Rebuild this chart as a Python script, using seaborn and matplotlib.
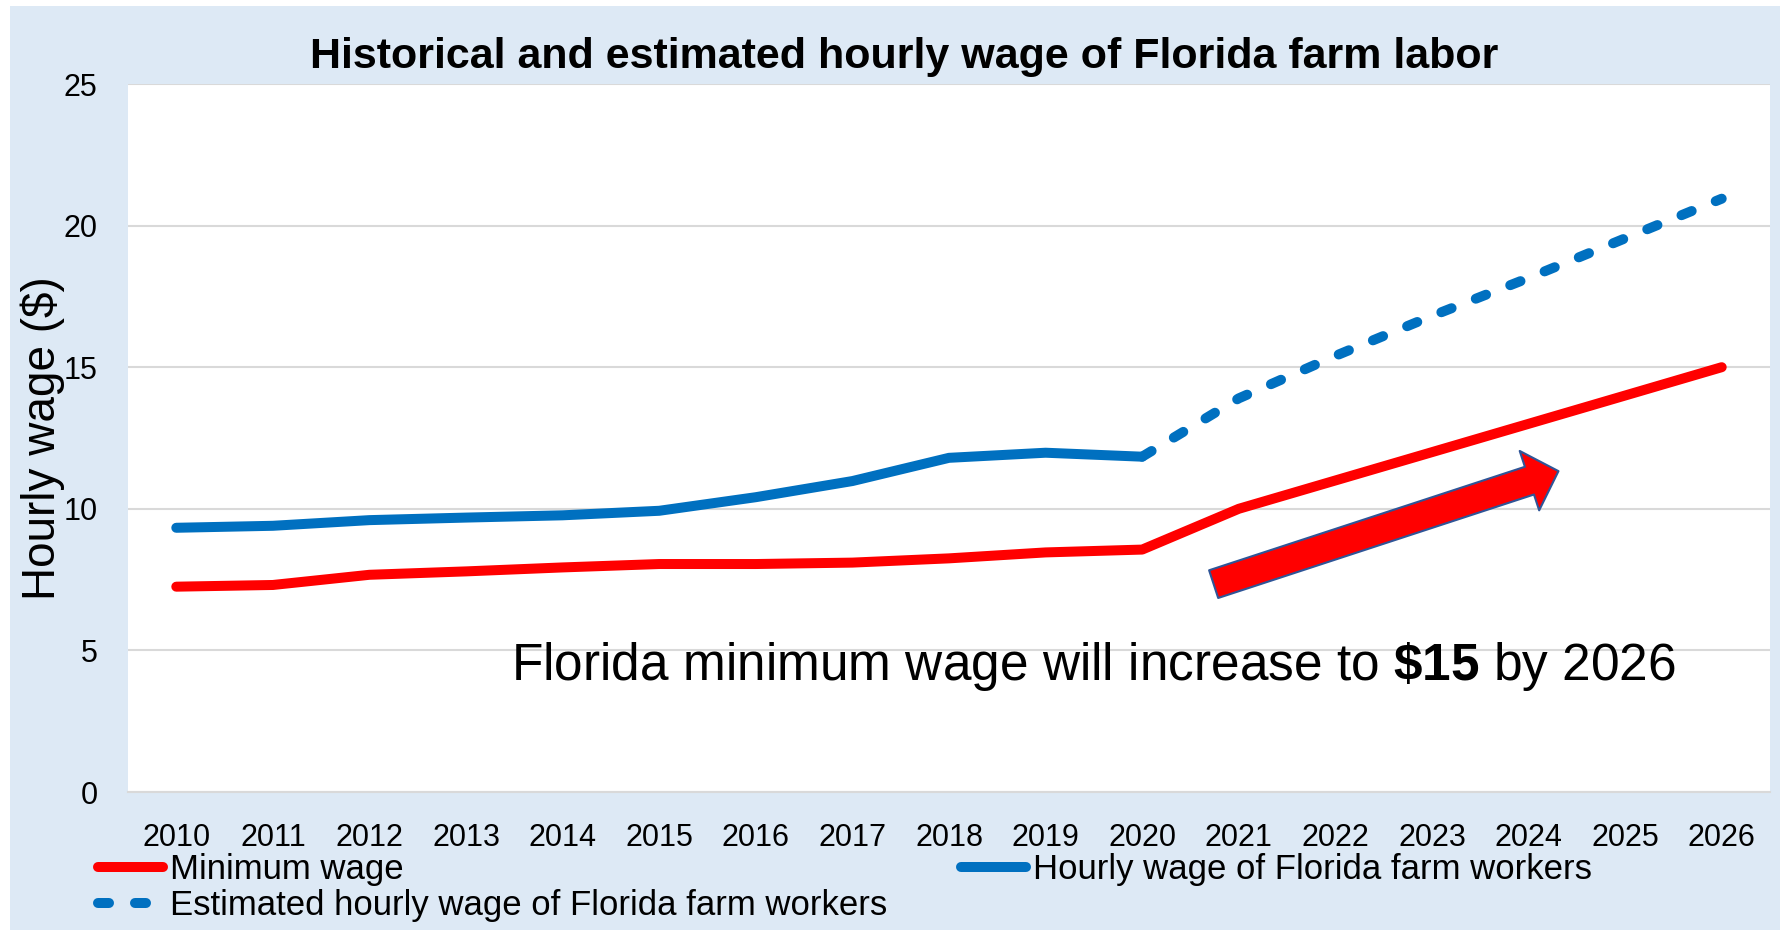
import matplotlib
matplotlib.use("Agg")
import matplotlib.pyplot as plt
import seaborn as sns
import pandas as pd
from matplotlib.patches import Rectangle, FancyArrowPatch, ArrowStyle
from matplotlib.lines import Line2D

# Data
years = list(range(2010, 2027))
min_wage = [7.25, 7.31, 7.67, 7.79, 7.93, 8.05, 8.05, 8.10, 8.25, 8.46, 8.56,
            10.00, 11.00, 12.00, 13.00, 14.00, 15.00]
farm_years = list(range(2010, 2021))
farm_wage = [9.33, 9.40, 9.60, 9.69, 9.77, 9.93, 10.41, 10.98, 11.80, 11.98, 11.84]
est_years = list(range(2020, 2027))
est_wage = [11.84, 13.90, 15.40, 16.81, 18.15, 19.55, 20.95]

labels = ["Minimum wage", "Estimated hourly wage of Florida farm workers",
          "Hourly wage of Florida farm workers"]
title = "Historical and estimated hourly wage of Florida farm labor"

RED = "#FF0000"
BLUE = "#0070C0"
BG = "#DDE9F5"
GRID = "#D9D9D9"

sns.set_style("white")
plt.rcParams["font.family"] = ["Liberation Sans", "DejaVu Sans"]
plt.rcParams["mathtext.fontset"] = "custom"
plt.rcParams["mathtext.rm"] = "Liberation Sans"
plt.rcParams["mathtext.bf"] = "Liberation Sans:bold"
plt.rcParams["text.color"] = "black"
plt.rcParams["xtick.color"] = "black"
plt.rcParams["ytick.color"] = "black"

fig = plt.figure(figsize=(17.8, 9.3), dpi=100, facecolor="white")
# light blue chart background with a thin white margin top/left
fig.patches.append(Rectangle((10 / 1780, 0), 1, 1 - 6 / 930, transform=fig.transFigure,
                             facecolor=BG, edgecolor="none", zorder=-10))

ax = fig.add_axes([128 / 1780, 1 - 792 / 930, (1770 - 128) / 1780, (792 - 84) / 930])
ax.set_facecolor("white")

min_df = pd.DataFrame({"year": years, "wage": min_wage})
farm_df = pd.DataFrame({"year": farm_years, "wage": farm_wage})
est_df = pd.DataFrame({"year": est_years, "wage": est_wage})

lw = 7.2
sns.lineplot(data=min_df, x="year", y="wage", color=RED, linewidth=lw, ax=ax,
             solid_capstyle="round", solid_joinstyle="round", zorder=3)
sns.lineplot(data=est_df, x="year", y="wage", color=BLUE, linewidth=lw, ax=ax,
             linestyle=(0, (1.1, 2.6)), dash_capstyle="round", dash_joinstyle="round", zorder=3)
sns.lineplot(data=farm_df, x="year", y="wage", color=BLUE, linewidth=lw, ax=ax,
             solid_capstyle="round", solid_joinstyle="round", zorder=3)

ax.set_xlim(2009.5, 2026.5)
ax.set_ylim(0, 25)
ax.set_xticks(years)
ax.set_xticklabels([str(y) for y in years])
ax.set_yticks([0, 5, 10, 15, 20, 25])
ax.set_xlabel("")
ax.set_ylabel("")
ax.grid(axis="y", color=GRID, linewidth=1.5)
ax.grid(axis="x", visible=False)
for s in ["top", "left", "right"]:
    ax.spines[s].set_visible(False)
ax.spines["bottom"].set_color(GRID)
ax.spines["bottom"].set_linewidth(1.5)
ax.tick_params(axis="x", length=0, pad=22, labelsize=22)
ax.tick_params(axis="y", length=0, pad=22, labelsize=22)

fig.text(43 / 1780, 1 - 438 / 930, "Hourly wage ($)", rotation=90, ha="center", va="center",
         fontsize=33)
fig.text(904 / 1780, 1 - 68 / 930, title, ha="center", va="baseline",
         fontsize=31, fontweight="bold")

# trend arrow
arrow = FancyArrowPatch((2020.74, 7.34), (2024.31, 11.33),
                        arrowstyle=ArrowStyle("Simple", head_length=22, head_width=45, tail_width=21),
                        mutation_scale=1, facecolor=RED, edgecolor="#2F5597", linewidth=1.5,
                        shrinkA=0, shrinkB=0, zorder=4)
ax.add_patch(arrow)

fig.text(511 / 1780, 1 - 680 / 930,
         r"Florida minimum wage will increase to $\mathbf{\$15}$ by 2026",
         ha="left", va="baseline", fontsize=37)

handles = [
    Line2D([], [], color=RED, linewidth=lw, solid_capstyle="round"),
    Line2D([], [], color=BLUE, linewidth=lw, linestyle=(0, (1.1, 2.6)), dash_capstyle="round"),
    Line2D([], [], color=BLUE, linewidth=lw, solid_capstyle="round"),
]
fig.legend(handles, labels, ncol=2, loc="upper left", bbox_to_anchor=(98 / 1780, 1 - 853 / 930),
           frameon=False, fontsize=25, handlelength=1.87, handletextpad=0.2,
           columnspacing=2.14, labelspacing=0.1, borderpad=0, borderaxespad=0)

fig.savefig("out.png", dpi=100, facecolor=fig.get_facecolor())
